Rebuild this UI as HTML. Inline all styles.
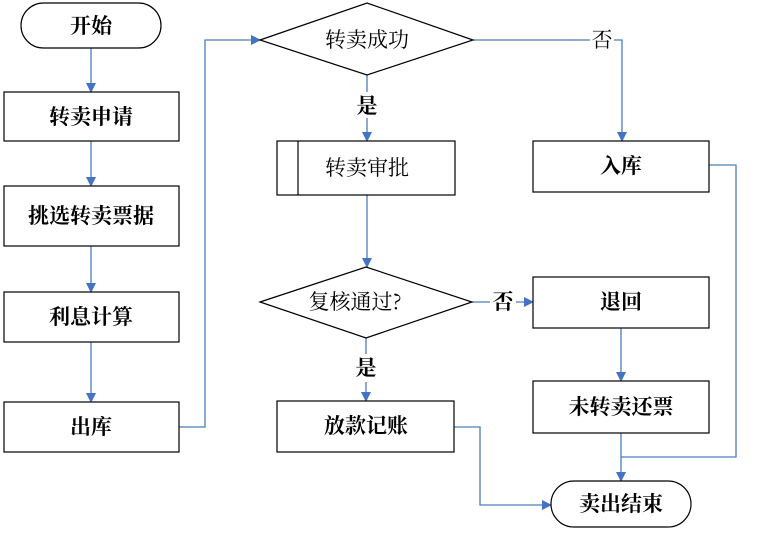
<!DOCTYPE html>
<html><head><meta charset="utf-8"><style>
body{margin:0;background:#fff}
svg text{font-family:"Noto Serif CJK SC","Liberation Serif",serif;font-size:21px;fill:#000}
.b{font-weight:bold}
</style></head><body>
<svg width="757" height="531" viewBox="0 0 757 531" xmlns="http://www.w3.org/2000/svg">
<defs><marker id="a" markerWidth="10" markerHeight="10" refX="9" refY="5" orient="auto" markerUnits="userSpaceOnUse"><path d="M0,0 L10,5 L0,10z" fill="#4472c4"/></marker></defs>
<g fill="none" stroke="#4a7ebb" stroke-width="1.3">
<path d="M91,48V92" marker-end="url(#a)"/>
<path d="M91,141V186" marker-end="url(#a)"/>
<path d="M91,246V292" marker-end="url(#a)"/>
<path d="M91,342V402" marker-end="url(#a)"/>
<path d="M179,427H205V40H260" marker-end="url(#a)"/>
<path d="M473,40H590M614,40H622V141" marker-end="url(#a)"/>
<path d="M367,75V92M367,118V141" marker-end="url(#a)"/>
<path d="M367,195V267" marker-end="url(#a)"/>
<path d="M472,302H490M516,302H533" marker-end="url(#a)"/>
<path d="M366,338V354M366,382V401" marker-end="url(#a)"/>
<path d="M621,328V381" marker-end="url(#a)"/>
<path d="M621,433V481" marker-end="url(#a)"/>
<path d="M709,165H736V457H621"/>
<path d="M454,427H480V505H551" marker-end="url(#a)"/>
</g>
<g fill="#fff" stroke="#000" stroke-width="1.2">
<rect x="21" y="3" width="140" height="45" rx="22.5"/>
<rect x="4" y="92" width="175" height="49"/>
<rect x="4" y="186" width="175" height="60"/>
<rect x="4" y="292" width="175" height="50"/>
<rect x="4" y="402" width="175" height="50"/>
<path d="M260,40L367,3L473,40L367,75Z"/>
<rect x="277" y="141" width="178" height="54"/>
<path d="M298,141V195"/>
<path d="M260,302L366,267L472,302L366,338Z"/>
<rect x="533" y="141" width="176" height="51"/>
<rect x="533" y="277" width="176" height="51"/>
<rect x="533" y="381" width="176" height="52"/>
<rect x="277" y="401" width="177" height="51"/>
<rect x="551" y="481" width="140" height="46" rx="23"/>
</g>
<g text-anchor="middle" dominant-baseline="central">
<text x="91" y="25" class="b">开始</text>
<text x="91" y="116" class="b">转卖申请</text>
<text x="91" y="215" class="b">挑选转卖票据</text>
<text x="91" y="316" class="b">利息计算</text>
<text x="91" y="426" class="b">出库</text>
<text x="367" y="39">转卖成功</text>
<text x="602" y="39">否</text>
<text x="367" y="105" class="b">是</text>
<text x="367" y="167">转卖审批</text>
<text x="621" y="165" class="b">入库</text>
<text x="355" y="301">复核通过?</text>
<text x="503" y="301" class="b">否</text>
<text x="621" y="301" class="b">退回</text>
<text x="366" y="367" class="b">是</text>
<text x="621" y="406" class="b">未转卖还票</text>
<text x="366" y="425" class="b">放款记账</text>
<text x="621" y="503" class="b">卖出结束</text>
</g>
</svg>
</body></html>
